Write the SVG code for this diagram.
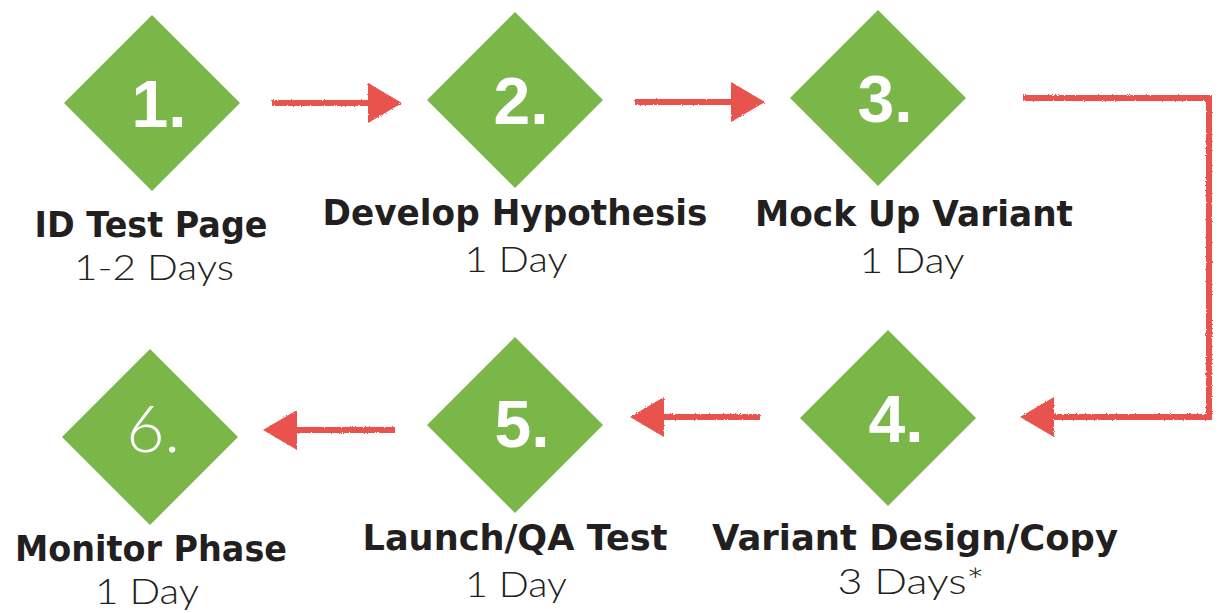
<svg xmlns="http://www.w3.org/2000/svg" width="1219" height="613" viewBox="0 0 1219 613">
  <defs>
    <style>
      .dia { fill: #7ab648; }
      .num { fill: #ffffff; font-family: "Liberation Sans", Arial, sans-serif; font-weight: bold; font-size: 66px; text-anchor: middle; }
      .num.thin { font-family: "Lato", "Open Sans", sans-serif; font-weight: 300; }
      .title { fill: #231f20; font-family: "DejaVu Sans", "Liberation Sans", sans-serif; font-weight: bold; font-size: 35px; text-anchor: middle; }
      .sub { fill: #231f20; font-family: "Lato", "Open Sans", sans-serif; font-weight: 300; font-size: 36px; text-anchor: middle; }
      .conn { fill: none; stroke: #e9524e; stroke-width: 6; stroke-linejoin: miter; }
    </style>
    <marker id="head" viewBox="0 0 34 40" refX="4" refY="20" markerWidth="34" markerHeight="40" markerUnits="userSpaceOnUse" orient="auto">
      <path d="M0,0 L34,20 L0,40 Z" fill="#e9524e"/>
    </marker>
    <filter id="rough" filterUnits="userSpaceOnUse" x="0" y="0" width="1219" height="613">
      <feTurbulence type="fractalNoise" baseFrequency="0.9" numOctaves="2" seed="3"/>
      <feDisplacementMap in="SourceGraphic" scale="2.5"/>
    </filter>
  </defs>
  <rect width="1219" height="613" fill="#ffffff"/>

  <g id="connectors" filter="url(#rough)">
    <path class="conn" d="M272,103 H372" marker-end="url(#head)"/>
    <path class="conn" d="M635,102 H735" marker-end="url(#head)"/>
    <path class="conn" d="M1023,98 H1209 V417 H1050" marker-end="url(#head)"/>
    <path class="conn" d="M760,417 H660" marker-end="url(#head)"/>
    <path class="conn" d="M395,430 H293" marker-end="url(#head)"/>
  </g>

  <g id="node1">
    <polygon class="dia" points="152,15 240,103 152,191 64,103"/>
    <text class="num" x="159" y="127">1.</text>
    <text class="title" x="151" y="237" textLength="233" lengthAdjust="spacingAndGlyphs">ID Test Page</text>
    <text class="sub" x="154" y="280" textLength="160" lengthAdjust="spacingAndGlyphs">1-2 Days</text>
  </g>

  <g id="node2">
    <polygon class="dia" points="515,12 603,100 515,188 427,100"/>
    <text class="num" x="521" y="124">2.</text>
    <text class="title" x="515" y="225" textLength="385" lengthAdjust="spacingAndGlyphs">Develop Hypothesis</text>
    <text class="sub" x="516" y="272" textLength="103" lengthAdjust="spacingAndGlyphs">1 Day</text>
  </g>

  <g id="node3">
    <polygon class="dia" points="878,10 966,98 878,186 790,98"/>
    <text class="num" x="885" y="122">3.</text>
    <text class="title" x="914" y="226" textLength="318" lengthAdjust="spacingAndGlyphs">Mock Up Variant</text>
    <text class="sub" x="912" y="273" textLength="105" lengthAdjust="spacingAndGlyphs">1 Day</text>
  </g>

  <g id="node4">
    <polygon class="dia" points="888,330 976,418 888,506 800,418"/>
    <text class="num" x="896" y="442">4.</text>
    <text class="title" x="915" y="550" textLength="406" lengthAdjust="spacingAndGlyphs">Variant Design/Copy</text>
    <text class="sub" x="911" y="594" textLength="147" lengthAdjust="spacingAndGlyphs">3 Days*</text>
  </g>

  <g id="node5">
    <polygon class="dia" points="515,337 603,425 515,513 427,425"/>
    <text class="num" x="522" y="447">5.</text>
    <text class="title" x="515" y="550" textLength="305" lengthAdjust="spacingAndGlyphs">Launch/QA Test</text>
    <text class="sub" x="516" y="597" textLength="102" lengthAdjust="spacingAndGlyphs">1 Day</text>
  </g>

  <g id="node6">
    <polygon class="dia" points="150,349 238,437 150,525 62,437"/>
    <text class="num thin" x="153" y="452">6.</text>
    <text class="title" x="151" y="561" textLength="272" lengthAdjust="spacingAndGlyphs">Monitor Phase</text>
    <text class="sub" x="147" y="604" textLength="104" lengthAdjust="spacingAndGlyphs">1 Day</text>
  </g>
</svg>
